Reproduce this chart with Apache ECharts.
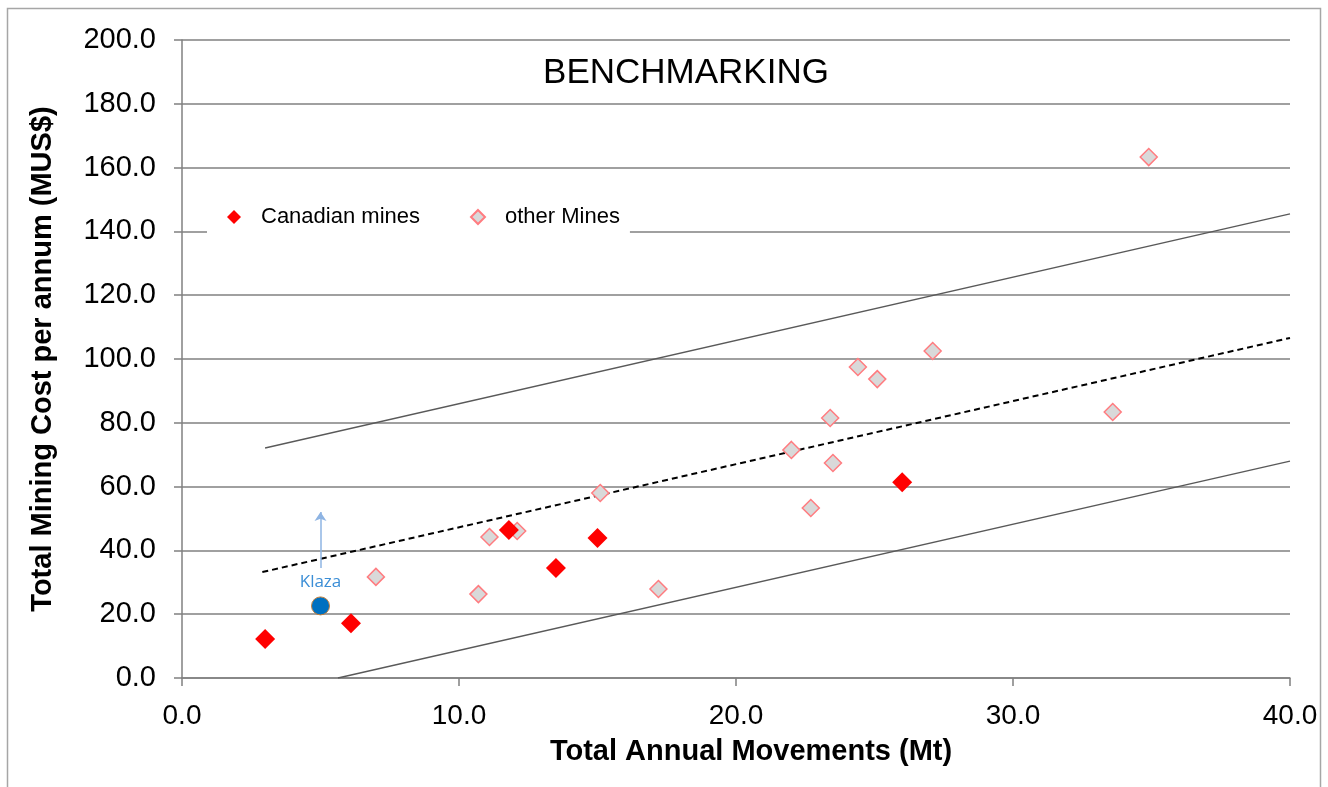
<!DOCTYPE html>
<html>
<head>
	<meta charset="utf-8">
	<title>Benchmarking</title>
	<script src="https://cdn.jsdelivr.net/npm/echarts@6/dist/echarts.min.js"></script>
	<style>
		html, body {
			margin: 0;
			padding: 0;
			background: #fff;
		}
		#chart {
			width: 1328px;
			height: 787px;
		}
	</style>
</head>
<body>
<div id="chart"></div>
<script>
	// values: [movements Mt, cost MUS$]
	var canadianMines = [
		[3.0, 12.2], [6.1, 17.2], [11.8, 46.4], [13.5, 34.5], [15.0, 43.9], [26.0, 61.4]
	];
	var otherMines = [
		[7.0, 31.7], [10.7, 26.3], [11.1, 44.2], [12.1, 46.1], [15.1, 58.0], [17.2, 27.9],
		[22.0, 71.5], [22.7, 53.3], [23.4, 81.5], [23.5, 67.4], [24.4, 97.5], [25.1, 93.7],
		[27.1, 102.5], [33.6, 83.4], [34.9, 163.3]
	];
	var klaza = [[5.0, 22.6]];
	var klazaArrow = [[5.0, 34.5], [5.0, 52.0]];
	var upperLine = [[3.0, 72.1], [40.0, 145.5]];
	var trendLine = [[2.9, 33.2], [40.0, 106.6]];
	var lowerLine = [[5.63, 0], [40.0, 68.0]];
	var xTicks = [0, 40, 10];   // min, max, interval
	var yTicks = [0, 200, 20];

	var chart = echarts.init(document.getElementById('chart'));
	var axisColor = '#808080';
	var font = 'Liberation Sans, Arial, sans-serif';

	chart.setOption({
		animation: false,
		backgroundColor: '#fff',
		graphic: [{
			type: 'rect',
			shape: {x: 7.5, y: 8.5, width: 1313, height: 800},
			style: {fill: 'none', stroke: '#a6a6a6', lineWidth: 1.5},
			silent: true
		}],
		title: {
			text: 'BENCHMARKING',
			left: 681,
			top: 51,
			textAlign: 'center',
			textStyle: {fontFamily: font, fontSize: 35, fontWeight: 'normal', color: '#000'}
		},
		legend: {
			left: 207,
			top: 198,
			padding: [8, 10, 8, 20],
			backgroundColor: '#fff',
			itemWidth: 14,
			itemHeight: 14,
			itemGap: 50,
			textStyle: {fontFamily: font, fontSize: 22, color: '#000', padding: [0, 0, 0, 15]},
			data: [
				{name: 'Canadian mines', icon: 'diamond'},
				{name: 'other Mines', icon: 'diamond'}
			]
		},
		grid: {left: 182, right: 38, top: 40, bottom: 109, containLabel: false},
		xAxis: {
			type: 'value',
			min: xTicks[0],
			max: xTicks[1],
			interval: xTicks[2],
			name: 'Total Annual Movements (Mt)',
			nameLocation: 'middle',
			nameGap: 59,
			nameTextStyle: {fontFamily: font, fontSize: 29, fontWeight: 'bold', color: '#000', padding: [0, 0, 0, 30]},
			axisLine: {show: true, lineStyle: {color: axisColor, width: 1.5}},
			axisTick: {show: true, length: 8, lineStyle: {color: axisColor, width: 1.5}},
			axisLabel: {
				margin: 24,
				fontFamily: font, fontSize: 28, color: '#000',
				formatter: function (v) { return v.toFixed(1); }
			},
			splitLine: {show: false}
		},
		yAxis: {
			type: 'value',
			min: yTicks[0],
			max: yTicks[1],
			interval: yTicks[2],
			name: 'Total Mining Cost per annum (MUS$)',
			nameLocation: 'middle',
			nameGap: 125,
			nameTextStyle: {fontFamily: font, fontSize: 29, fontWeight: 'bold', color: '#000'},
			axisLine: {show: true, lineStyle: {color: axisColor, width: 1.5}},
			axisTick: {show: true, length: 8, lineStyle: {color: axisColor, width: 1.5}},
			axisLabel: {
				margin: 26,
				fontFamily: font, fontSize: 29, color: '#000',
				formatter: function (v) { return v.toFixed(1); }
			},
			splitLine: {show: true, lineStyle: {color: axisColor, width: 1.5}}
		},
		series: [
			{
				name: 'upper',
				type: 'line',
				data: upperLine,
				showSymbol: false,
				silent: true,
				lineStyle: {color: '#595959', width: 1.3},
				z: 2
			},
			{
				name: 'trend',
				type: 'line',
				data: trendLine,
				showSymbol: false,
				silent: true,
				lineStyle: {color: '#000', width: 2, type: [6, 4]},
				z: 2
			},
			{
				name: 'lower',
				type: 'line',
				data: lowerLine,
				showSymbol: false,
				silent: true,
				lineStyle: {color: '#595959', width: 1.3},
				z: 2
			},
			{
				name: 'arrow',
				type: 'lines',
				coordinateSystem: 'cartesian2d',
				data: [{coords: klazaArrow}],
				symbol: ['none', 'arrow'],
				symbolSize: 9,
				silent: true,
				lineStyle: {color: '#8eb4e3', width: 1.5, opacity: 1},
				z: 3
			},
			{
				name: 'other Mines',
				type: 'scatter',
				data: otherMines,
				symbol: 'diamond',
				symbolSize: 17,
				itemStyle: {color: '#d9d9d9', borderColor: '#ff7c80', borderWidth: 1.5, opacity: 1},
				z: 4
			},
			{
				name: 'Canadian mines',
				type: 'scatter',
				data: canadianMines,
				symbol: 'diamond',
				symbolSize: 20,
				itemStyle: {color: '#ff0000', opacity: 1},
				z: 5
			},
			{
				name: 'Klaza',
				type: 'scatter',
				data: klaza,
				symbol: 'circle',
				symbolSize: 18,
				itemStyle: {color: '#0070c0', borderColor: '#c0803f', borderWidth: 1, opacity: 1},
				label: {
					show: true,
					position: 'top',
					distance: 6,
					formatter: 'Klaza',
					fontFamily: 'Open Sans, Liberation Sans, sans-serif',
					fontSize: 17,
					color: '#3b8ed6'
				},
				z: 5
			}
		]
	});
</script>
</body>
</html>
